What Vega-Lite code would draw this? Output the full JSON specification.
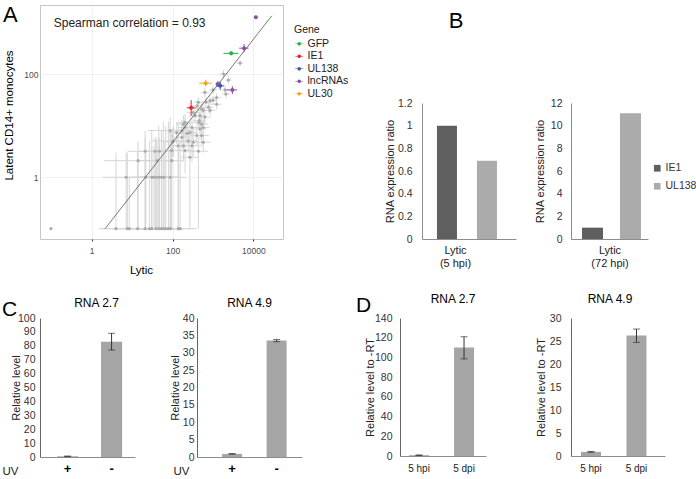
{
  "$schema": "https://vega.github.io/schema/vega-lite/v6.json",
  "background": "white",
  "padding": {"left": 2, "top": 3, "right": 0, "bottom": 0},
  "config": {
    "font": "Liberation Sans",
    "view": {"stroke": null},
    "axis": {"grid": false, "ticks": false, "labelOverlap": false, "domainColor": "#8c8c8c", "labelColor": "#333333", "titleColor": "#222222", "titleFontWeight": "normal", "labelFontSize": 10.5, "titleFontSize": 11},
    "title": {"color": "black", "fontWeight": "normal"}
  },
  "datasets": {
    "pts": [
      {"x":4680,"y":166,"xlo":3900,"xhi":5600,"ylo":145,"yhi":190},
      {"x":1820,"y":102,"xlo":1450,"xhi":2300,"ylo":85,"yhi":122},
      {"x":2400,"y":77.6,"xlo":2000,"xhi":2900,"ylo":66,"yhi":91},
      {"x":1000,"y":50,"xlo":795,"xhi":1260,"ylo":42,"yhi":60},
      {"x":2000,"y":50,"xlo":1600,"xhi":2500,"ylo":42,"yhi":60},
      {"x":2090,"y":41.7,"xlo":1660,"xhi":2630,"ylo":35,"yhi":50},
      {"x":631,"y":44.7,"xlo":500,"xhi":795,"ylo":37,"yhi":54},
      {"x":1230,"y":35.5,"xlo":980,"xhi":1550,"ylo":29,"yhi":43},
      {"x":851,"y":30.9,"xlo":640,"xhi":1130,"ylo":25,"yhi":38},
      {"x":437,"y":28.8,"xlo":330,"xhi":580,"ylo":23,"yhi":36},
      {"x":525,"y":21.4,"xlo":390,"xhi":700,"ylo":17,"yhi":27},
      {"x":776,"y":22.9,"xlo":580,"xhi":1040,"ylo":18,"yhi":29},
      {"x":1230,"y":26.3,"xlo":920,"xhi":1640,"ylo":21,"yhi":33},
      {"x":324,"y":18.2,"xlo":230,"xhi":460,"ylo":14,"yhi":24},
      {"x":479,"y":15.8,"xlo":340,"xhi":680,"ylo":11.5,"yhi":22},
      {"x":407,"y":24.5,"xlo":300,"xhi":550,"ylo":19,"yhi":31},
      {"x":676,"y":28.8,"xlo":510,"xhi":900,"ylo":23,"yhi":36},
      {"x":575,"y":20,"xlo":420,"xhi":790,"ylo":15,"yhi":27},
      {"x":631,"y":14.8,"xlo":450,"xhi":890,"ylo":10.5,"yhi":21},
      {"x":457,"y":12.6,"xlo":320,"xhi":650,"ylo":8.5,"yhi":19},
      {"x":525,"y":10.8,"xlo":370,"xhi":740,"ylo":7,"yhi":16},
      {"x":575,"y":9.3,"xlo":400,"xhi":820,"ylo":6,"yhi":14},
      {"x":302,"y":9.3,"xlo":200,"xhi":450,"ylo":6,"yhi":14},
      {"x":269,"y":7.4,"xlo":170,"xhi":420,"ylo":4.5,"yhi":12},
      {"x":186,"y":10.8,"xlo":125,"xhi":280,"ylo":7,"yhi":16},
      {"x":170,"y":8.1,"xlo":110,"xhi":260,"ylo":5,"yhi":13},
      {"x":170,"y":6,"xlo":105,"xhi":275,"ylo":3.5,"yhi":10},
      {"x":126,"y":7.4,"xlo":75,"xhi":210,"ylo":4.5,"yhi":12},
      {"x":245,"y":5.1,"xlo":150,"xhi":400,"ylo":3,"yhi":9},
      {"x":302,"y":4.1,"xlo":180,"xhi":500,"ylo":2,"yhi":8},
      {"x":186,"y":4.1,"xlo":110,"xhi":320,"ylo":2,"yhi":8},
      {"x":138,"y":4.1,"xlo":80,"xhi":240,"ylo":0.1,"yhi":8},
      {"x":105,"y":5.1,"xlo":30,"xhi":400,"ylo":2.5,"yhi":10},
      {"x":87,"y":8.1,"xlo":25,"xhi":320,"ylo":4,"yhi":15},
      {"x":95,"y":3.3,"xlo":40,"xhi":230,"ylo":0.1,"yhi":7},
      {"x":204,"y":3.3,"xlo":120,"xhi":350,"ylo":1.2,"yhi":7},
      {"x":437,"y":3.2,"xlo":250,"xhi":760,"ylo":0.1,"yhi":6},
      {"x":525,"y":6.5,"xlo":350,"xhi":790,"ylo":4,"yhi":10},
      {"x":575,"y":4.8,"xlo":380,"xhi":870,"ylo":3,"yhi":8},
      {"x":21,"y":3.2,"xlo":8,"xhi":60,"ylo":0.1,"yhi":6},
      {"x":37,"y":3.2,"xlo":14,"xhi":100,"ylo":0.1,"yhi":6},
      {"x":47,"y":3.2,"xlo":20,"xhi":110,"ylo":0.1,"yhi":6},
      {"x":14,"y":2.1,"xlo":2,"xhi":45,"ylo":0.1,"yhi":5},
      {"x":95,"y":2.1,"xlo":50,"xhi":180,"ylo":0.1,"yhi":5},
      {"x":41,"y":2.1,"xlo":15,"xhi":110,"ylo":0.1,"yhi":5},
      {"x":7.1,"y":1,"xlo":1.9,"xhi":90,"ylo":0.1,"yhi":3.2},
      {"x":21.8,"y":1,"xlo":8,"xhi":60,"ylo":0.1,"yhi":3},
      {"x":30.6,"y":1,"xlo":10,"xhi":90,"ylo":0.1,"yhi":4},
      {"x":34.7,"y":1,"xlo":12,"xhi":100,"ylo":0.1,"yhi":4},
      {"x":40.7,"y":1,"xlo":15,"xhi":110,"ylo":0.1,"yhi":4},
      {"x":47,"y":1,"xlo":18,"xhi":120,"ylo":0.1,"yhi":4},
      {"x":54,"y":1,"xlo":20,"xhi":130,"ylo":0.1,"yhi":4},
      {"x":62,"y":1,"xlo":25,"xhi":150,"ylo":0.1,"yhi":5},
      {"x":87,"y":1,"xlo":30,"xhi":220,"ylo":0.1,"yhi":5},
      {"x":0.098,"y":0.1,"xlo":0.098,"xhi":0.098,"ylo":0.1,"yhi":0.1},
      {"x":4,"y":0.1,"xlo":1.5,"xhi":12,"ylo":0.1,"yhi":3},
      {"x":7.6,"y":0.1,"xlo":2,"xhi":25,"ylo":0.1,"yhi":3},
      {"x":8.5,"y":0.1,"xlo":3,"xhi":30,"ylo":0.1,"yhi":1},
      {"x":13.7,"y":0.1,"xlo":4,"xhi":40,"ylo":0.1,"yhi":3},
      {"x":21,"y":0.1,"xlo":6,"xhi":60,"ylo":0.1,"yhi":8},
      {"x":27,"y":0.1,"xlo":8,"xhi":80,"ylo":0.1,"yhi":5},
      {"x":30.6,"y":0.1,"xlo":10,"xhi":90,"ylo":0.1,"yhi":8},
      {"x":39,"y":0.1,"xlo":12,"xhi":110,"ylo":0.1,"yhi":6},
      {"x":45.6,"y":0.1,"xlo":15,"xhi":120,"ylo":0.1,"yhi":10},
      {"x":53,"y":0.1,"xlo":18,"xhi":130,"ylo":0.1,"yhi":8},
      {"x":59,"y":0.1,"xlo":20,"xhi":150,"ylo":0.1,"yhi":12},
      {"x":68,"y":0.1,"xlo":25,"xhi":160,"ylo":0.1,"yhi":10},
      {"x":79,"y":0.1,"xlo":30,"xhi":180,"ylo":0.1,"yhi":12},
      {"x":90,"y":0.1,"xlo":35,"xhi":190,"ylo":0.1,"yhi":8},
      {"x":139,"y":0.1,"xlo":60,"xhi":300,"ylo":0.1,"yhi":12},
      {"x":154,"y":0.1,"xlo":70,"xhi":400,"ylo":0.1,"yhi":5},
      {"x":1000,"y":31.6,"xlo":780,"xhi":1280,"ylo":26,"yhi":38},
      {"x":851,"y":20,"xlo":640,"xhi":1130,"ylo":16,"yhi":25},
      {"x":363,"y":15.8,"xlo":260,"xhi":510,"ylo":12,"yhi":21},
      {"x":447,"y":11.7,"xlo":310,"xhi":640,"ylo":8,"yhi":17},
      {"x":479,"y":8.7,"xlo":320,"xhi":700,"ylo":5.5,"yhi":13},
      {"x":398,"y":6.5,"xlo":260,"xhi":600,"ylo":4,"yhi":10},
      {"x":204,"y":11.7,"xlo":140,"xhi":300,"ylo":8,"yhi":17},
      {"x":100,"y":4.9,"xlo":55,"xhi":180,"ylo":2.5,"yhi":9},
      {"x":269,"y":2.45,"xlo":160,"xhi":450,"ylo":0.1,"yhi":5},
      {"x":204,"y":9.3,"xlo":140,"xhi":300,"ylo":6,"yhi":14},
      {"x":324,"y":4.8,"xlo":200,"xhi":520,"ylo":2.5,"yhi":9},
      {"x":229,"y":7.1,"xlo":150,"xhi":350,"ylo":4.5,"yhi":11}
    ],
    "genes": [
      {"gene":"GFP","x":2820,"y":257,"xlo":1820,"xhi":4270,"ylo":235,"yhi":280},
      {"gene":"IE1","x":288,"y":22.4,"xlo":224,"xhi":380,"ylo":15.8,"yhi":31.6},
      {"gene":"lncRNAs","x":11500,"y":1290,"xlo":10500,"xhi":12600,"ylo":1200,"yhi":1390},
      {"gene":"lncRNAs","x":5890,"y":324,"xlo":4470,"xhi":7590,"ylo":270,"yhi":390},
      {"gene":"lncRNAs","x":3020,"y":50,"xlo":2190,"xhi":3980,"ylo":41.7,"yhi":59},
      {"gene":"lncRNAs","x":1320,"y":65,"xlo":1150,"xhi":1520,"ylo":57,"yhi":74},
      {"gene":"UL30","x":661,"y":67.6,"xlo":457,"xhi":933,"ylo":58,"yhi":79},
      {"gene":"UL138","x":1510,"y":60,"xlo":1200,"xhi":1900,"ylo":50,"yhi":72}
    ]
  },
  "resolve": {"scale": {"color": "independent"}, "legend": {"color": "independent"}},
  "vconcat": [
    {
      "resolve": {"scale": {"color": "independent"}, "legend": {"color": "independent"}},
      "hconcat": [
        {
          "width": 243,
          "height": 234,
          "title": {"text": "A", "fontSize": 22, "anchor": "start", "frame": "bounds", "offset": -22},
          "view": {"stroke": "#c6c6c6", "strokeWidth": 1},
          "layer": [
            {
              "data": {"name": "pts"},
              "mark": {"type": "rule", "color": "#d6d6d6", "strokeWidth": 1},
              "encoding": {
                "x": {"field": "xlo", "type": "quantitative", "title": "Lytic",
                  "scale": {"type": "log", "domain": [0.0525, 54000], "nice": false, "zero": false},
                  "axis": {"values": [1, 100, 10000], "format": "d", "grid": true, "gridColor": "#ebebeb", "gridWidth": 0.7, "domain": false, "ticks": true, "tickSize": 2, "tickColor": "#333333", "labelColor": "#4d4d4d", "labelFontSize": 8.5, "labelPadding": 5, "titleFontSize": 11.5, "titleColor": "black", "titleX": 101, "titleY": 25, "titleAlign": "center", "titleBaseline": "top"}},
                "x2": {"field": "xhi"},
                "y": {"field": "y", "type": "quantitative", "title": "Latent CD14+ monocytes",
                  "scale": {"type": "log", "domain": [0.063, 2240], "nice": false, "zero": false},
                  "axis": {"values": [1, 100], "format": "d", "grid": true, "gridColor": "#ebebeb", "gridWidth": 0.7, "domain": false, "ticks": false, "labelColor": "#4d4d4d", "labelFontSize": 8.5, "labelPadding": 2, "titleFontSize": 11.5, "titleColor": "black", "titleX": -26, "titleY": 110, "titleAlign": "center"}}
              }
            },
            {
              "data": {"name": "pts"},
              "mark": {"type": "rule", "color": "#d6d6d6", "strokeWidth": 1},
              "encoding": {
                "x": {"field": "x", "type": "quantitative", "title": "Lytic"},
                "y": {"field": "ylo", "type": "quantitative", "title": "Latent CD14+ monocytes"},
                "y2": {"field": "yhi"}
              }
            },
            {
              "data": {"name": "pts"},
              "mark": {"type": "circle", "color": "#aaaaaa", "size": 10, "opacity": 1},
              "encoding": {
                "x": {"field": "x", "type": "quantitative", "title": "Lytic"},
                "y": {"field": "y", "type": "quantitative", "title": "Latent CD14+ monocytes"}
              }
            },
            {
              "data": {"values": [{"x": 2.14, "y": 0.1, "x2": 28500, "y2": 1380}]},
              "mark": {"type": "rule", "color": "#555555", "strokeWidth": 0.8},
              "encoding": {
                "x": {"field": "x", "type": "quantitative", "title": "Lytic"},
                "y": {"field": "y", "type": "quantitative", "title": "Latent CD14+ monocytes"},
                "x2": {"field": "x2"},
                "y2": {"field": "y2"}
              }
            },
            {
              "data": {"name": "genes"},
              "mark": {"type": "rule", "strokeWidth": 1},
              "encoding": {
                "x": {"field": "xlo", "type": "quantitative", "title": "Lytic"},
                "x2": {"field": "xhi"},
                "y": {"field": "y", "type": "quantitative", "title": "Latent CD14+ monocytes"},
                "stroke": {"field": "gene", "type": "nominal", "scale": {"domain": ["GFP", "IE1", "UL138", "lncRNAs", "UL30"], "range": ["#1fb34a", "#e8202a", "#3a58a6", "#8e4fa2", "#f5a51c"]}, "legend": null}
              }
            },
            {
              "data": {"name": "genes"},
              "mark": {"type": "rule", "strokeWidth": 1},
              "encoding": {
                "x": {"field": "x", "type": "quantitative", "title": "Lytic"},
                "y": {"field": "ylo", "type": "quantitative", "title": "Latent CD14+ monocytes"},
                "y2": {"field": "yhi"},
                "stroke": {"field": "gene", "type": "nominal", "legend": null}
              }
            },
            {
              "data": {"name": "genes"},
              "mark": {"type": "circle", "size": 16, "opacity": 1},
              "encoding": {
                "x": {"field": "x", "type": "quantitative", "title": "Lytic"},
                "y": {"field": "y", "type": "quantitative", "title": "Latent CD14+ monocytes"},
                "color": {"field": "gene", "type": "nominal", "title": "Gene",
                  "scale": {"domain": ["GFP", "IE1", "UL138", "lncRNAs", "UL30"], "range": ["#1fb34a", "#e8202a", "#3a58a6", "#8e4fa2", "#f5a51c"]},
                  "legend": {"orient": "none", "legendX": 254, "legendY": 20, "titleFontSize": 10.5, "titleFontWeight": "normal", "titleColor": "#222222", "labelFontSize": 10.5, "labelColor": "#222222", "symbolType": "M-1,-0.09L1,-0.09L1,0.09L-1,0.09Z M0.45,0 A0.45,0.45 0 1,1 -0.45,0 A0.45,0.45 0 1,1 0.45,0 Z", "symbolSize": 64, "symbolStrokeWidth": 0, "rowPadding": 1.5, "labelOffset": 3, "titlePadding": 3}}
              }
            },
            {
              "data": {"values": [{"x": 0.115, "y": 1000, "label": "Spearman correlation = 0.93"}]},
              "mark": {"type": "text", "align": "left", "baseline": "middle", "fontSize": 12, "color": "#222222"},
              "encoding": {
                "x": {"field": "x", "type": "quantitative", "title": "Lytic"},
                "y": {"field": "y", "type": "quantitative", "title": "Latent CD14+ monocytes"},
                "text": {"field": "label"}
              }
            }
          ]
        },
        {
          "resolve": {"scale": {"color": "independent"}, "legend": {"color": "independent"}},
          "vconcat": [
            {
              "width": 68,
              "height": 32,
              "data": {"values": [{"t": "B"}]},
              "mark": {"type": "text", "fontSize": 22, "color": "black"},
              "encoding": {"text": {"field": "t"}}
            },
            {
              "resolve": {"scale": {"color": "independent"}, "legend": {"color": "independent"}},
              "hconcat": [
                {
                  "width": 94,
                  "height": 136,
                  "data": {"values": [{"gene": "IE1", "v": 1}, {"gene": "UL138", "v": 0.69}]},
                  "mark": {"type": "bar"},
                  "encoding": {
                    "x": {"field": "gene", "type": "nominal", "scale": {"paddingInner": 0.5, "paddingOuter": 0.425, "align": 0.44},
                      "axis": {"labels": false, "title": ["Lytic", "(5 hpi)"], "titleFontSize": 11, "titleX": 33, "titleY": 5, "titleBaseline": "top", "titleAlign": "center", "titleLineHeight": 13}},
                    "y": {"field": "v", "type": "quantitative", "scale": {"domain": [0, 1.2]},
                      "axis": {"values": [0, 0.2, 0.4, 0.6, 0.8, 1, 1.2], "format": "~g", "labelPadding": 10, "title": "RNA expression ratio", "titleX": -27}},
                    "color": {"field": "gene", "type": "nominal", "scale": {"domain": ["IE1", "UL138"], "range": ["#5f5f5f", "#ababab"]}, "legend": null}
                  }
                },
                {
                  "width": 77,
                  "height": 136,
                  "data": {"values": [{"gene": "IE1", "v": 1}, {"gene": "UL138", "v": 11.1}]},
                  "mark": {"type": "bar"},
                  "encoding": {
                    "x": {"field": "gene", "type": "nominal", "scale": {"paddingInner": 0.447, "paddingOuter": 0.237, "align": 0.61},
                      "axis": {"labels": false, "title": ["Lytic", "(72 hpi)"], "titleFontSize": 11, "titleY": 5, "titleBaseline": "top", "titleAlign": "center", "titleLineHeight": 13}},
                    "y": {"field": "v", "type": "quantitative", "scale": {"domain": [0, 12]},
                      "axis": {"values": [0, 2, 4, 6, 8, 10, 12], "labelPadding": 9, "title": "RNA expression ratio", "titleX": -26}},
                    "color": {"field": "gene", "type": "nominal", "scale": {"domain": ["IE1", "UL138"], "range": ["#5f5f5f", "#ababab"]},
                      "legend": {"title": null, "orient": "none", "legendX": 81, "legendY": 60, "symbolType": "square", "symbolSize": 45, "labelFontSize": 10.5, "labelColor": "#333333", "rowPadding": 7, "labelOffset": 3}}
                  }
                }
              ],
              "spacing": 55,
              "bounds": "flush"
            }
          ],
          "spacing": 66,
          "bounds": "flush"
        }
      ],
      "spacing": 139,
      "bounds": "flush"
    },
    {
      "hconcat": [
        {
          "title": {"text": "C", "fontSize": 21, "anchor": "start", "frame": "bounds", "offset": -10, "dy": 13},
          "hconcat": [
            {
              "width": 95,
              "height": 139,
              "title": {"text": "RNA 2.7", "fontSize": 12, "dx": 9, "offset": 3},
              "data": {"values": [{"uv": "+", "v": 0.5, "lo": 0.3, "hi": 0.7}, {"uv": "-", "v": 83, "lo": 77, "hi": 89}]},
              "layer": [
                {
                  "mark": {"type": "bar", "color": "#a5a5a5"},
                  "encoding": {
                    "x": {"field": "uv", "type": "nominal", "sort": ["+", "-"], "title": "UV", "scale": {"paddingInner": 0.52, "paddingOuter": 0.34, "align": 0.57},
                      "axis": {"labelAngle": 0, "labelFontSize": 13, "labelFontWeight": "bold", "labelColor": "black", "labelPadding": 5, "titleFontSize": 11.5, "titleX": -38, "titleY": 8, "titleAlign": "left", "titleBaseline": "top"}},
                    "y": {"field": "v", "type": "quantitative", "title": "Relative level", "scale": {"domain": [0, 100]},
                      "axis": {"values": [0, 10, 20, 30, 40, 50, 60, 70, 80, 90, 100], "labelOverlap": false, "labelPadding": 5, "titleX": -19, "domainColor": "#666666"}}
                  }
                },
                {
                  "mark": {"type": "errorbar", "color": "#333333", "ticks": {"size": 7}},
                  "encoding": {
                    "x": {"field": "uv", "type": "nominal", "sort": ["+", "-"], "title": "UV"},
                    "y": {"field": "lo", "type": "quantitative", "title": "Relative level",
                      "axis": {"values": [0, 10, 20, 30, 40, 50, 60, 70, 80, 90, 100], "labelOverlap": false, "labelPadding": 5, "titleX": -19, "domainColor": "#666666"}},
                    "y2": {"field": "hi"}
                  }
                }
              ]
            },
            {
              "width": 105,
              "height": 139,
              "title": {"text": "RNA 4.9", "fontSize": 12, "offset": 3},
              "data": {"values": [{"uv": "+", "v": 0.9, "lo": 0.8, "hi": 1.0}, {"uv": "-", "v": 33.5, "lo": 33.2, "hi": 33.8}]},
              "layer": [
                {
                  "mark": {"type": "bar", "color": "#a5a5a5"},
                  "encoding": {
                    "x": {"field": "uv", "type": "nominal", "sort": ["+", "-"], "title": "UV", "scale": {"paddingInner": 0.55, "paddingOuter": 0.455, "align": 0.62},
                      "axis": {"labelAngle": 0, "labelFontSize": 13, "labelFontWeight": "bold", "labelColor": "black", "labelPadding": 5, "titleFontSize": 11.5, "titleX": -24, "titleY": 8, "titleAlign": "left", "titleBaseline": "top"}},
                    "y": {"field": "v", "type": "quantitative", "title": "Relative level", "scale": {"domain": [0, 40]},
                      "axis": {"values": [0, 5, 10, 15, 20, 25, 30, 35, 40], "labelOverlap": false, "labelPadding": 3, "titleX": -17, "domainColor": "#666666"}}
                  }
                },
                {
                  "mark": {"type": "errorbar", "color": "#333333", "ticks": {"size": 7}},
                  "encoding": {
                    "x": {"field": "uv", "type": "nominal", "sort": ["+", "-"], "title": "UV"},
                    "y": {"field": "lo", "type": "quantitative", "title": "Relative level",
                      "axis": {"values": [0, 5, 10, 15, 20, 25, 30, 35, 40], "labelOverlap": false, "labelPadding": 3, "titleX": -17, "domainColor": "#666666"}},
                    "y2": {"field": "hi"}
                  }
                }
              ]
            }
          ],
          "spacing": 62,
          "bounds": "flush"
        },
        {
          "title": {"text": "D", "fontSize": 21, "anchor": "start", "frame": "bounds", "offset": -10, "dx": -8, "dy": 13},
          "hconcat": [
            {
              "width": 86,
              "height": 138,
              "title": {"text": "RNA 2.7", "fontSize": 12, "dx": 10, "offset": 7},
              "data": {"values": [{"t": "5 hpi", "v": 0.8, "lo": 0.5, "hi": 1.1}, {"t": "5 dpi", "v": 110, "lo": 98.5, "hi": 121}]},
              "layer": [
                {
                  "mark": {"type": "bar", "color": "#a5a5a5"},
                  "encoding": {
                    "x": {"field": "t", "type": "nominal", "sort": ["5 hpi", "5 dpi"], "title": null, "scale": {"paddingInner": 0.556, "paddingOuter": 0.233, "align": 0.43},
                      "axis": {"labelAngle": 0, "labelFontSize": 10, "labelColor": "#222222", "labelPadding": 7}},
                    "y": {"field": "v", "type": "quantitative", "title": "Relative level to -RT", "scale": {"domain": [0, 140]},
                      "axis": {"values": [0, 20, 40, 60, 80, 100, 120, 140], "labelOverlap": false, "labelPadding": 8, "titleX": -25, "domainColor": "#666666"}}
                  }
                },
                {
                  "mark": {"type": "errorbar", "color": "#333333", "ticks": {"size": 7}},
                  "encoding": {
                    "x": {"field": "t", "type": "nominal", "sort": ["5 hpi", "5 dpi"], "title": null},
                    "y": {"field": "lo", "type": "quantitative", "title": "Relative level to -RT",
                      "axis": {"values": [0, 20, 40, 60, 80, 100, 120, 140], "labelOverlap": false, "labelPadding": 8, "titleX": -25, "domainColor": "#666666"}},
                    "y2": {"field": "hi"}
                  }
                }
              ]
            },
            {
              "width": 94,
              "height": 138,
              "title": {"text": "RNA 4.9", "fontSize": 12, "dx": -8, "offset": 7},
              "data": {"values": [{"t": "5 hpi", "v": 0.9, "lo": 0.8, "hi": 1.0}, {"t": "5 dpi", "v": 26.2, "lo": 24.7, "hi": 27.6}]},
              "layer": [
                {
                  "mark": {"type": "bar", "color": "#a5a5a5"},
                  "encoding": {
                    "x": {"field": "t", "type": "nominal", "sort": ["5 hpi", "5 dpi"], "title": null, "scale": {"paddingInner": 0.56, "paddingOuter": 0.313, "align": 0.35},
                      "axis": {"labelAngle": 0, "labelFontSize": 10, "labelColor": "#222222", "labelPadding": 7}},
                    "y": {"field": "v", "type": "quantitative", "title": "Relative level to -RT", "scale": {"domain": [0, 30]},
                      "axis": {"values": [0, 5, 10, 15, 20, 25, 30], "labelOverlap": false, "labelPadding": 10, "titleX": -25, "domainColor": "#666666"}}
                  }
                },
                {
                  "mark": {"type": "errorbar", "color": "#333333", "ticks": {"size": 7}},
                  "encoding": {
                    "x": {"field": "t", "type": "nominal", "sort": ["5 hpi", "5 dpi"], "title": null},
                    "y": {"field": "lo", "type": "quantitative", "title": "Relative level to -RT",
                      "axis": {"values": [0, 5, 10, 15, 20, 25, 30], "labelOverlap": false, "labelPadding": 10, "titleX": -25, "domainColor": "#666666"}},
                    "y2": {"field": "hi"}
                  }
                }
              ]
            }
          ],
          "spacing": 85,
          "bounds": "flush"
        }
      ],
      "spacing": 53
    }
  ],
  "spacing": 17
}
